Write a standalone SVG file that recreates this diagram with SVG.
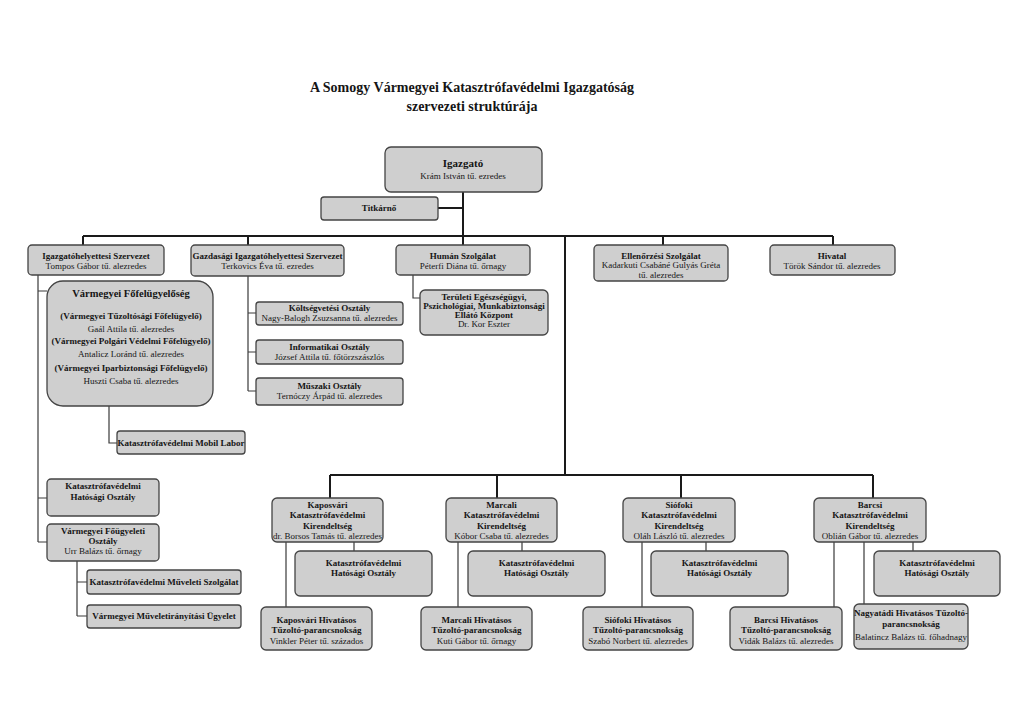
<svg xmlns="http://www.w3.org/2000/svg" width="1024" height="724" viewBox="0 0 1024 724">
<style>
.box{fill:#cfcfcf;stroke:#444444;stroke-width:1.3}
.t{font-family:"Liberation Serif","Times New Roman",serif;font-size:9px;fill:#151515;text-anchor:middle}
.b{font-weight:bold}
.ttl{font-family:"Liberation Serif","Times New Roman",serif;font-size:14px;font-weight:bold;fill:#151515;text-anchor:middle}
.th{stroke:#1a1a1a;stroke-width:2;fill:none}
.tn{stroke:#3a3a3a;stroke-width:1.2;fill:none}
</style>
<rect width="1024" height="724" fill="#ffffff"/>
<g id="title">
<text class="ttl" x="472" y="92">A Somogy Vármegyei Katasztrófavédelmi Igazgatóság</text>
<text class="ttl" x="472" y="111">szervezeti struktúrája</text>
</g>
<g id="connectors">
<path class="th" d="M463,192V245M438,208H463M83,236H833M83,236V245M248,236V245M565,236V475M663,236V245M833,236V245"/>
<path class="th" d="M330,475H873M330,475V498M497,475V498M681,475V498M873,475V498"/>
<path class="tn" d="M38,275V542M38,291H47M38,498H47M38,542H47M109,406V443H117M77,561V616M77,582H87M77,616H87"/>
<path class="tn" d="M248,276V391M248,313H256M248,352H256M248,391H256M413,275V298H420"/>
<path class="tn" d="M354,542V551M522,542V551M706,542V551M913,542V551M286,542V607M458,542V607M642,542V607M834,542V607M864,542V604"/>
</g>
<g id="igazgato"><rect class="box" x="385" y="147" width="157" height="45" rx="6"/><text class="t b" x="463" y="167" style="font-size:11px">Igazgató</text><text class="t" x="463" y="179">Krám István tű. ezredes</text></g>
<g id="titkarno"><rect class="box" x="321" y="197" width="117" height="23" rx="3"/><text class="t b" x="379" y="211">Titkárnő</text></g>
<g id="igh"><rect class="box" x="28" y="245" width="136" height="30" rx="4"/><text class="t b" x="96" y="259">Igazgatóhelyettesi Szervezet</text><text class="t" x="96" y="269">Tompos Gábor tű. alezredes</text></g>
<g id="gazd"><rect class="box" x="191" y="245" width="153" height="31" rx="4"/><text class="t b" x="267.5" y="259">Gazdasági Igazgatóhelyettesi Szervezet</text><text class="t" x="267.5" y="269">Terkovics Éva tű. ezredes</text></g>
<g id="human"><rect class="box" x="396" y="245" width="134" height="30" rx="4"/><text class="t b" x="463" y="259">Humán Szolgálat</text><text class="t" x="463" y="269">Péterfi Diána tű. őrnagy</text></g>
<g id="ellenorzesi"><rect class="box" x="594" y="245" width="134" height="36" rx="4"/><text class="t b" x="661" y="259">Ellenőrzési Szolgálat</text><text class="t" x="661" y="268">Kadarkuti Csabáné Gulyás Gréta</text><text class="t" x="661" y="278">tű. alezredes</text></g>
<g id="hivatal"><rect class="box" x="770" y="245" width="125" height="30" rx="4"/><text class="t b" x="832" y="259">Hivatal</text><text class="t" x="832" y="269">Török Sándor tű. alezredes</text></g>
<g id="fofelugyeloseg"><rect class="box" x="47" y="281" width="166" height="125" rx="16"/>
<text class="t b" x="131" y="297" style="font-size:10.5px">Vármegyei Főfelügyelőség</text>
<text class="t b" x="131" y="319">(Vármegyei Tűzoltósági Főfelügyelő)</text>
<text class="t" x="131" y="332">Gaál Attila tű. alezredes</text>
<text class="t b" x="131" y="344">(Vármegyei Polgári Védelmi Főfelügyelő)</text>
<text class="t" x="131" y="357">Antalicz Loránd tű. alezredes</text>
<text class="t b" x="131" y="371">(Vármegyei Iparbiztonsági Főfelügyelő)</text>
<text class="t" x="131" y="384">Huszti Csaba tű. alezredes</text></g>
<g id="mobillabor"><rect class="box" x="117" y="431" width="128" height="23" rx="3"/><text class="t b" x="181" y="446">Katasztrófavédelmi Mobil Labor</text></g>
<g id="hatosagi-megyei"><rect class="box" x="47" y="479" width="112" height="37" rx="4"/><text class="t b" x="103" y="489">Katasztrófavédelmi</text><text class="t b" x="103" y="500">Hatósági Osztály</text></g>
<g id="fougyeleti"><rect class="box" x="47" y="524" width="112" height="37" rx="4"/><text class="t b" x="103" y="534">Vármegyei Főügyeleti</text><text class="t b" x="103" y="544">Osztály</text><text class="t" x="103" y="554">Urr Balázs tű. őrnagy</text></g>
<g id="muveleti"><rect class="box" x="87" y="570" width="154" height="24" rx="3"/><text class="t b" x="164" y="585">Katasztrófavédelmi Műveleti Szolgálat</text></g>
<g id="muveletiranyitasi"><rect class="box" x="87" y="605" width="154" height="23" rx="3"/><text class="t b" x="164" y="619">Vármegyei Műveletirányítási Ügyelet</text></g>
<g id="koltsegvetesi"><rect class="box" x="256" y="302" width="147" height="23" rx="3"/><text class="t b" x="329.5" y="311">Költségvetési Osztály</text><text class="t" x="329.5" y="321">Nagy-Balogh Zsuzsanna tű. alezredes</text></g>
<g id="informatikai"><rect class="box" x="256" y="340" width="147" height="24" rx="3"/><text class="t b" x="329.5" y="350">Informatikai Osztály</text><text class="t" x="329.5" y="360">József Attila tű. főtörzszászlós</text></g>
<g id="muszaki"><rect class="box" x="256" y="378" width="147" height="27" rx="3"/><text class="t b" x="329.5" y="389">Műszaki Osztály</text><text class="t" x="329.5" y="399">Ternóczy Árpád tű. alezredes</text></g>
<g id="teruleti"><rect class="box" x="420" y="290" width="128" height="45" rx="5"/><text class="t b" x="484" y="300">Területi Egészségügyi,</text><text class="t b" x="484" y="309">Pszichológiai, Munkabiztonsági</text><text class="t b" x="484" y="318">Ellátó Központ</text><text class="t" x="484" y="327">Dr. Kor Eszter</text></g>
<g id="kir-kaposvar"><rect class="box" x="272" y="498" width="111" height="44" rx="5"/><text class="t b" x="327.5" y="508">Kaposvári</text><text class="t b" x="327.5" y="518">Katasztrófavédelmi</text><text class="t b" x="327.5" y="529">Kirendeltség</text><text class="t" x="327.5" y="539">dr. Borsos Tamás tű. alezredes</text></g>
<g id="kir-marcali"><rect class="box" x="446" y="498" width="111" height="44" rx="5"/><text class="t b" x="501.5" y="508">Marcali</text><text class="t b" x="501.5" y="518">Katasztrófavédelmi</text><text class="t b" x="501.5" y="529">Kirendeltség</text><text class="t" x="501.5" y="539">Kóbor Csaba tű. alezredes</text></g>
<g id="kir-siofok"><rect class="box" x="623" y="498" width="112" height="44" rx="5"/><text class="t b" x="679" y="508">Siófoki</text><text class="t b" x="679" y="518">Katasztrófavédelmi</text><text class="t b" x="679" y="529">Kirendeltség</text><text class="t" x="679" y="539">Oláh László tű. alezredes</text></g>
<g id="kir-barcs"><rect class="box" x="814" y="498" width="112" height="44" rx="5"/><text class="t b" x="870" y="508">Barcsi</text><text class="t b" x="870" y="518">Katasztrófavédelmi</text><text class="t b" x="870" y="529">Kirendeltség</text><text class="t" x="870" y="539">Oblián Gábor tű. alezredes</text></g>
<g id="hat-kaposvar"><rect class="box" x="295" y="551" width="137" height="45" rx="5"/><text class="t b" x="363.5" y="566">Katasztrófavédelmi</text><text class="t b" x="363.5" y="576">Hatósági Osztály</text></g>
<g id="hat-marcali"><rect class="box" x="468" y="551" width="137" height="45" rx="5"/><text class="t b" x="536.5" y="566">Katasztrófavédelmi</text><text class="t b" x="536.5" y="576">Hatósági Osztály</text></g>
<g id="hat-siofok"><rect class="box" x="651" y="551" width="137" height="45" rx="5"/><text class="t b" x="719.5" y="566">Katasztrófavédelmi</text><text class="t b" x="719.5" y="576">Hatósági Osztály</text></g>
<g id="hat-barcs"><rect class="box" x="874" y="551" width="126" height="45" rx="5"/><text class="t b" x="937" y="566">Katasztrófavédelmi</text><text class="t b" x="937" y="576">Hatósági Osztály</text></g>
<g id="hiv-kaposvar"><rect class="box" x="261" y="607" width="111" height="43" rx="5"/><text class="t b" x="316.5" y="623">Kaposvári Hivatásos</text><text class="t b" x="316.5" y="633">Tűzoltó-parancsnokság</text><text class="t" x="316.5" y="644">Vinkler Péter tű. százados</text></g>
<g id="hiv-marcali"><rect class="box" x="421" y="607" width="111" height="43" rx="5"/><text class="t b" x="476.5" y="623">Marcali Hivatásos</text><text class="t b" x="476.5" y="633">Tűzoltó-parancsnokság</text><text class="t" x="476.5" y="644">Kuti Gábor tű. őrnagy</text></g>
<g id="hiv-siofok"><rect class="box" x="583" y="607" width="110" height="43" rx="5"/><text class="t b" x="638" y="623">Siófoki Hivatásos</text><text class="t b" x="638" y="633">Tűzoltó-parancsnokság</text><text class="t" x="638" y="644">Szabó Norbert tű. alezredes</text></g>
<g id="hiv-barcs"><rect class="box" x="730" y="607" width="112" height="43" rx="5"/><text class="t b" x="786" y="623">Barcsi Hivatásos</text><text class="t b" x="786" y="633">Tűzoltó-parancsnokság</text><text class="t" x="786" y="644">Vidák Balázs tű. alezredes</text></g>
<g id="hiv-nagyatad"><rect class="box" x="854" y="604" width="114" height="45" rx="5"/><text class="t b" x="911" y="616">Nagyatádi Hivatásos Tűzoltó-</text><text class="t b" x="911" y="627">parancsnokság</text><text class="t" x="911" y="640">Balatincz Balázs tű. főhadnagy</text></g>
</svg>
